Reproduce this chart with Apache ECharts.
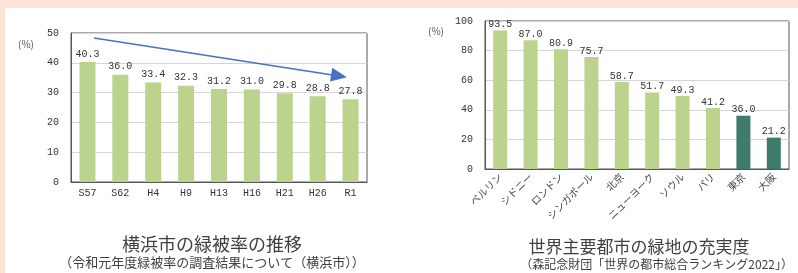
<!DOCTYPE html>
<html>
<head>
<meta charset="utf-8">
<script src="https://cdn.jsdelivr.net/npm/echarts@6/dist/echarts.min.js"></script>
<style>
  html, body { margin: 0; padding: 0; background: #fce4d6; }
  #main { width: 798px; height: 273px; }
</style>
</head>
<body>
<div id="main"></div>
<script>
// 横浜市の緑被率
var yokoCats = ['S57', 'S62', 'H4', 'H9', 'H13', 'H16', 'H21', 'H26', 'R1'];
var yokoVals = [40.3, 36.0, 33.4, 32.3, 31.2, 31.0, 29.8, 28.8, 27.8];
// 矢印（始点と終点, 横軸は 0〜9 の連続値）
var trendArrow = [[0.7, 48.3], [8.15, 35.6]];

// 世界主要都市の緑地
var cityCats = ['ベルリン', 'シドニー', 'ロンドン', 'シンガポール', '北京', 'ニューヨーク', 'ソウル', 'パリ', '東京', '大阪'];
var cityVals = [93.5, 87.0, 80.9, 75.7, 58.7, 51.7, 49.3, 41.2, 36.0, 21.2];
var japanCities = ['東京', '大阪'];

var lightGreen = '#bcd38e';
var darkGreen = '#3d7c6c';
var numFont = 'Liberation Mono';
var jpFont = 'Noto Sans CJK JP';

var myChart = echarts.init(document.getElementById('main'));

var cityData = [];
for (var i = 0; i < cityVals.length; i++) {
    cityData.push({
        value: cityVals[i],
        itemStyle: { color: japanCities.indexOf(cityCats[i]) >= 0 ? darkGreen : lightGreen }
    });
}

function valueAxis(idx, max, interval) {
    return {
        type: 'value', gridIndex: idx, min: 0, max: max, interval: interval,
        axisLine: { show: true, lineStyle: { color: '#555', width: 1 } },
        axisTick: { show: false },
        axisLabel: { color: '#333', fontSize: 10, fontFamily: numFont, margin: 12 },
        splitLine: { lineStyle: { color: '#d6d6d6' } }
    };
}

option = {
    backgroundColor: '#fce4d6',
    animation: false,
    graphic: [
        { type: 'rect', shape: { x: 5, y: 8, width: 793, height: 265 }, style: { fill: '#ffffff' }, z: -10 },
        { type: 'text', x: 18, y: 39, style: { text: '(%)', fill: '#555', font: '10px ' + jpFont } },
        { type: 'text', x: 428, y: 26, style: { text: '(%)', fill: '#555', font: '10px ' + jpFont } }
    ],
    title: [
        { text: '横浜市の緑被率の推移', left: 207, top: 230, textAlign: 'center',
          textStyle: { fontSize: 18, fontWeight: 'normal', color: '#404040', fontFamily: jpFont } },
        { text: '（令和元年度緑被率の調査結果について（横浜市））', left: 207, top: 251, textAlign: 'center',
          textStyle: { fontSize: 13, fontWeight: 'normal', color: '#404040', fontFamily: jpFont } },
        { text: '世界主要都市の緑地の充実度', left: 634, top: 233, textAlign: 'center',
          textStyle: { fontSize: 17, fontWeight: 'normal', color: '#404040', fontFamily: jpFont } },
        { text: '（森記念財団「世界の都市総合ランキング2022」）', right: 0, top: 253,
          textStyle: { fontSize: 12, fontWeight: 'normal', color: '#404040', fontFamily: jpFont } }
    ],
    grid: [
        { left: 71, top: 33, width: 296, height: 149, show: true, borderColor: '#555', borderWidth: 1 },
        { left: 485, top: 21, width: 304, height: 148, show: true, borderColor: '#555', borderWidth: 1 }
    ],
    xAxis: [
        {
            type: 'category', gridIndex: 0, data: yokoCats,
            axisLine: { lineStyle: { color: '#555' } },
            axisTick: { show: false },
            axisLabel: { color: '#333', fontSize: 10, fontFamily: numFont, margin: 6 }
        },
        {
            type: 'category', gridIndex: 1, data: cityCats,
            axisLine: { lineStyle: { color: '#555' } },
            axisTick: { show: false },
            axisLabel: { color: '#444', fontSize: 10, fontFamily: jpFont, rotate: 45, margin: 6, interval: 0 }
        },
        // 矢印用の見えない連続軸
        { type: 'value', gridIndex: 0, min: 0, max: 9, show: false, splitLine: { show: false } }
    ],
    yAxis: [ valueAxis(0, 50, 10), valueAxis(1, 100, 20) ],
    series: [
        {
            type: 'bar', xAxisIndex: 0, yAxisIndex: 0, data: yokoVals,
            barWidth: 16,
            itemStyle: { color: lightGreen },
            label: {
                show: true, position: 'top', distance: 3, color: '#333',
                fontSize: 10, fontFamily: numFont,
                formatter: function (p) { return p.value.toFixed(1); }
            }
        },
        {
            type: 'line', xAxisIndex: 2, yAxisIndex: 0, data: [],
            markLine: {
                silent: true,
                symbol: ['none', 'triangle'],
                symbolSize: [14, 16],
                label: { show: false },
                lineStyle: { color: '#4472c4', width: 1.5, type: 'solid' },
                data: [[{ coord: trendArrow[0] }, { coord: trendArrow[1] }]]
            }
        },
        {
            type: 'bar', xAxisIndex: 1, yAxisIndex: 1, data: cityData,
            barWidth: 14,
            label: {
                show: true, position: 'top', distance: 1, color: '#333',
                fontSize: 10, fontFamily: numFont,
                formatter: function (p) { return p.value.toFixed(1); }
            }
        }
    ]
};

myChart.setOption(option);
</script>
</body>
</html>
